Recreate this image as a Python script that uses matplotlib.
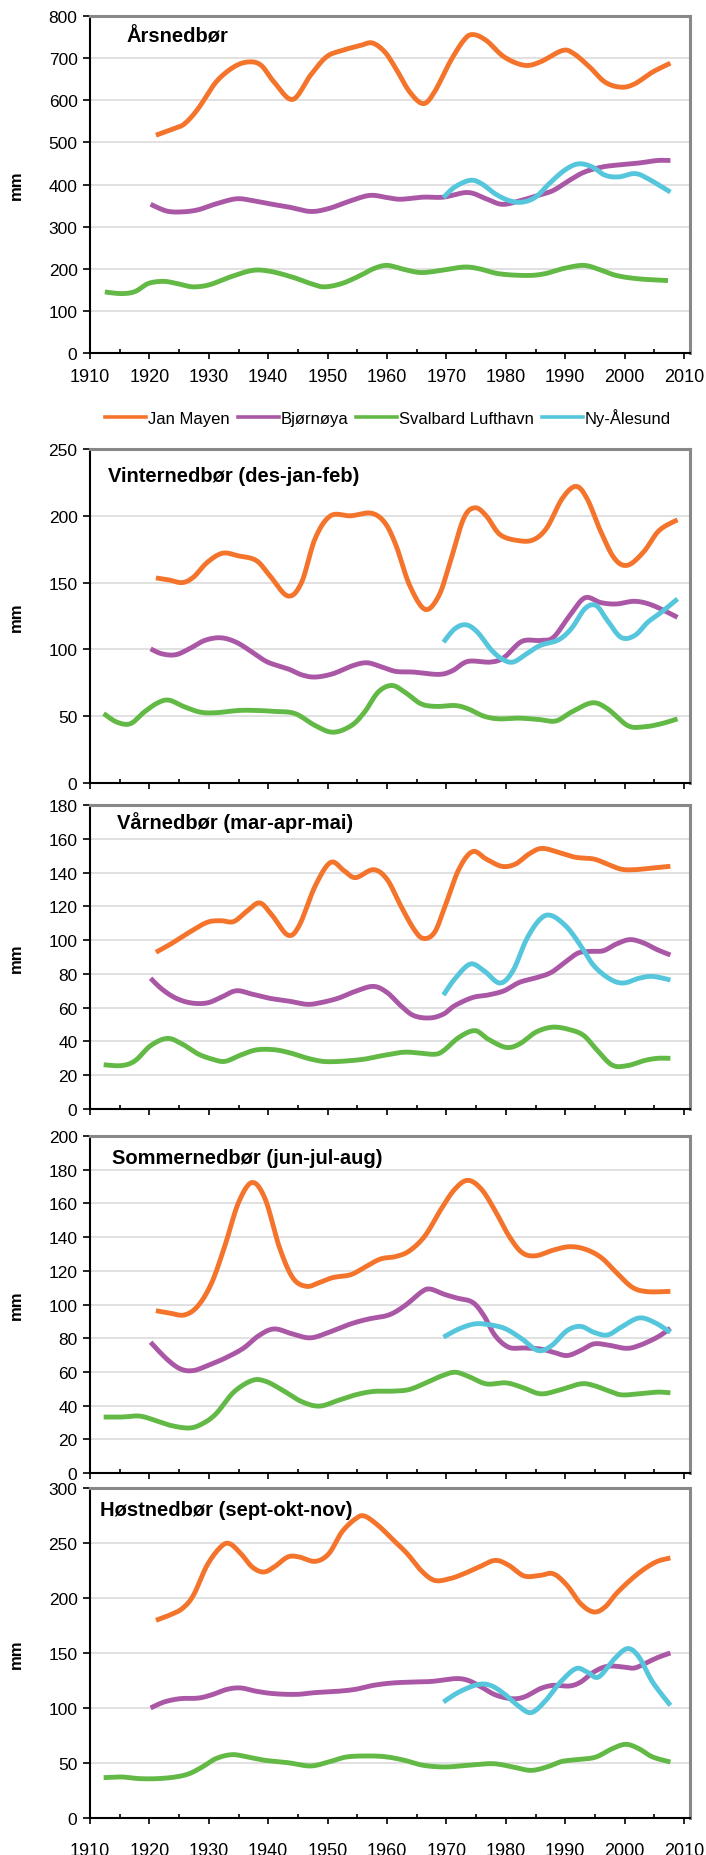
import numpy as np
import matplotlib
matplotlib.use("Agg")
import matplotlib.pyplot as plt
from matplotlib.lines import Line2D
from matplotlib.ticker import MultipleLocator

plt.rcParams['font.family'] = ['Liberation Sans', 'DejaVu Sans']

# Data: (year, mm)
stations = ['Jan Mayen', 'Bjørnøya', 'Svalbard Lufthavn', 'Ny-Ålesund']
colors = ['#F4742C', '#AA57A6', '#63B946', '#55C6DC']

# Årsnedbør
aar_jan = [(1921.1, 517), (1924, 532), (1925.9, 544), (1928.2, 580), (1931.2, 643), (1934.2, 679),
           (1936.7, 691), (1938.8, 683), (1941, 643), (1944.1, 602), (1947.1, 659), (1949.8, 703),
           (1952.4, 718), (1955.5, 730), (1957.5, 736), (1959.6, 715), (1961.5, 675), (1963.8, 620),
           (1966.1, 592), (1968, 620), (1970.6, 691), (1972.9, 742), (1974.4, 756), (1976.7, 742),
           (1979.7, 703), (1983.1, 683), (1985.8, 691), (1989.5, 718), (1991.4, 711), (1994.1, 679),
           (1996.7, 643), (1999.4, 631), (2001.7, 639), (2004.7, 667), (2007.7, 688)]
aar_bjo = [(1920.2, 353), (1922.9, 337), (1925.5, 335), (1928.2, 340), (1931.2, 354), (1934.6, 366),
           (1937.3, 362), (1940.3, 354), (1943.3, 347), (1947.1, 336), (1950.2, 343), (1953.2, 358),
           (1957, 374), (1960, 369), (1962.3, 365), (1966.1, 370), (1969.5, 370), (1973.6, 381),
           (1976.7, 366), (1979.3, 353), (1982, 360), (1985.4, 374), (1988, 386), (1990.7, 410),
           (1993.3, 430), (1996.4, 442), (1999.4, 447), (2002.4, 451), (2005.5, 457), (2007.7, 457)]
aar_sva = [(1912.5, 145), (1915.3, 141), (1917.6, 146), (1919.8, 165), (1922.5, 170), (1925.2, 163),
           (1927.4, 157), (1930.1, 162), (1933.5, 180), (1937.3, 196), (1940.3, 194), (1944.1, 180),
           (1947.1, 165), (1949.4, 157), (1952.4, 165), (1955.5, 184), (1957.7, 200), (1960, 208),
           (1962.7, 199), (1965.7, 191), (1969.1, 196), (1972.9, 204), (1975.5, 200), (1978.9, 188),
           (1983.5, 184), (1986.5, 188), (1989.5, 200), (1993, 208), (1995.6, 199), (1998.6, 184),
           (2002.4, 176), (2007.3, 172)]
aar_ny = [(1969.5, 369), (1971.4, 394), (1974, 410), (1975.9, 402), (1978.2, 378), (1980.5, 362),
          (1982.7, 358), (1985, 370), (1987.3, 402), (1989.9, 434), (1992.2, 449), (1994.5, 442),
          (1996.7, 422), (1999, 418), (2001.7, 426), (2003.9, 414), (2007.7, 382)]

# Vinternedbør (des-jan-feb)
vin_jan = [(1921.1, 153.5), (1923.3, 152), (1925.5, 150), (1927.4, 154), (1929.7, 165), (1932.3, 172),
           (1935, 170), (1938, 166.5), (1940.3, 155), (1943.3, 140), (1945.6, 150), (1947.9, 183),
           (1950.5, 200), (1953.9, 200), (1957.3, 202), (1959.6, 195), (1961.5, 178), (1963.8, 148),
           (1966.4, 130), (1968.7, 140), (1970.6, 165), (1972.9, 198), (1974.8, 206), (1976.7, 200),
           (1979, 186), (1982, 181.5), (1984.6, 182), (1986.9, 191), (1989.5, 213), (1991.8, 222),
           (1993.7, 212.6), (1996, 188), (1998.3, 168), (2000.5, 163), (2003.2, 173), (2005.8, 189),
           (2008.9, 197)]
vin_bjo = [(1920.2, 100.4), (1922.1, 96.7), (1924.4, 96), (1926.7, 100.4), (1929.3, 106.7), (1932, 108.7),
           (1934.6, 105.4), (1937.3, 98), (1939.9, 90.5), (1943.3, 85.5), (1945.6, 81), (1947.9, 79.3),
           (1950.9, 81.8), (1954, 87.5), (1956.6, 90), (1959.2, 86.7), (1961.5, 83.5), (1964.5, 83),
           (1968.7, 81.3), (1971, 84), (1973.6, 91), (1977.4, 90.5), (1979.7, 94), (1982.7, 106),
           (1985.8, 106.7), (1988, 109), (1990.7, 125), (1993.3, 138.6), (1996, 135), (1998.6, 134),
           (2001.7, 136), (2004.7, 133), (2008.9, 124)]
vin_sva = [(1912.3, 52), (1914.5, 45.6), (1916.8, 44.4), (1919.1, 53), (1921.4, 60), (1923.3, 62),
           (1925.9, 57), (1928.6, 53), (1931.2, 52.6), (1935, 54.3), (1938, 54.3), (1941, 53.6),
           (1944.5, 52), (1947.9, 43), (1950.9, 38), (1954, 43), (1956.2, 53), (1958.5, 68),
           (1960.8, 73), (1963, 68), (1965.7, 59.3), (1968.3, 57.3), (1971.4, 58), (1973.6, 55.6),
           (1976.3, 50), (1978.9, 48), (1982, 48.6), (1985.4, 47.6), (1988.4, 46.4), (1991, 53),
           (1994.5, 60), (1997.1, 55.6), (2000.5, 43), (2003.2, 42), (2006.2, 44.4), (2008.9, 48)]
vin_ny = [(1969.5, 105.4), (1971.4, 115.4), (1973.3, 118.4), (1975.2, 113), (1977.4, 100.4), (1979.3, 93),
          (1981.2, 90.5), (1983.5, 96.7), (1985.8, 103), (1988.8, 107), (1991, 115.4), (1993.3, 130.4),
          (1995.2, 132.8), (1997.1, 121.6), (1999.4, 109), (2001.7, 110.4), (2003.9, 120.4),
          (2006.2, 127.9), (2008.9, 137.8)]

# Vårnedbør (mar-apr-mai)
vaar_jan = [(1921.1, 92.8), (1923.6, 97.7), (1926.7, 104.6), (1929.7, 110.5), (1932, 111.5), (1934.2, 111),
            (1936.5, 117.4), (1938.6, 122), (1940.7, 114.5), (1943.3, 103), (1945.2, 108.5), (1947.9, 132),
            (1950.5, 146), (1952.8, 141), (1954.7, 137), (1957.7, 141.7), (1960, 136), (1962.3, 120.4),
            (1964.5, 106.6), (1966.1, 101), (1968, 104.6), (1969.8, 120.4), (1972.1, 142), (1974.4, 152.4),
            (1976.7, 148), (1979.3, 143.7), (1981.6, 145), (1983.9, 151), (1986.1, 154.3), (1989.2, 151.6),
            (1991.8, 149), (1994.8, 148), (1997.1, 145), (1999.4, 142), (2001.7, 141.7), (2004.7, 142.7),
            (2007.7, 143.7)]
vaar_bjo = [(1920.2, 77.4), (1922.1, 71), (1924.4, 65.7), (1927, 62.8), (1929.7, 62.8), (1932, 66),
            (1934.6, 70), (1937.3, 68), (1940.3, 65.5), (1943.3, 64), (1946.4, 62), (1948.6, 62.8),
            (1951.7, 65.5), (1954.7, 69.7), (1957.7, 72.6), (1960, 69), (1962.3, 61.2), (1964.5, 55.3),
            (1967.2, 53.9), (1969.5, 56.2), (1971.4, 61.2), (1974.4, 66), (1977, 67.5), (1979.7, 70),
            (1982.3, 75), (1985.4, 78), (1987.7, 81), (1990.3, 87.8), (1992.2, 92.4), (1994.1, 93.3),
            (1996.4, 93.7), (1998.6, 97.7), (2000.9, 100.3), (2003.2, 98.3), (2005.5, 94.3), (2007.7, 91.2)]
vaar_sva = [(1912.3, 26.2), (1915.3, 25.7), (1917.6, 28.6), (1920.2, 37.5), (1923, 41.8), (1925.5, 38.5),
            (1928.2, 32.6), (1930.5, 29.6), (1932.7, 28.2), (1935.4, 32), (1938, 35), (1941, 35.1),
            (1943.7, 33.2), (1947.1, 29.6), (1950.2, 28), (1955.5, 29.2), (1959.2, 31.6), (1962.7, 33.6),
            (1965.3, 33.2), (1968, 32.4), (1969.5, 34.5), (1972.1, 42.4), (1974.8, 46.4), (1977, 41.4),
            (1980, 36.5), (1982.3, 38.5), (1985, 45.4), (1987.7, 48.4), (1990.3, 47.4), (1993, 43.8),
            (1995.2, 35.5), (1997.9, 26), (2000.5, 25.7), (2003.2, 28.6), (2005.5, 30), (2007.7, 30)]
vaar_ny = [(1969.5, 67.5), (1971.4, 77), (1974, 85.8), (1976.3, 81.9), (1979, 74.6), (1981.2, 81.9),
           (1983.5, 100.6), (1985.8, 112.5), (1987.7, 114.5), (1990.3, 107.6), (1992.6, 96.7),
           (1994.8, 84.9), (1997.5, 77), (1999.8, 74.6), (2002.4, 77.4), (2004.7, 78.5), (2007.7, 76.4)]

# Sommernedbør (jun-jul-aug)
som_jan = [(1921.1, 96.3), (1923.3, 95), (1925.9, 93.8), (1928.2, 99.3), (1930.5, 113), (1932.7, 134.8),
           (1935, 160.5), (1937.3, 172.4), (1939.5, 162.5), (1941.8, 134.8), (1944.1, 116), (1946.4, 110.8),
           (1948.6, 113), (1950.9, 116), (1953.9, 117.7), (1956.2, 122), (1958.9, 127), (1961.5, 128.5),
           (1963.8, 131.9), (1966.4, 140.8), (1969.1, 156.6), (1971.4, 168.4), (1973.6, 173.7),
           (1975.9, 168.4), (1978.2, 155.6), (1980.5, 140.8), (1982.7, 130.9), (1985, 128.9), (1988, 132.3),
           (1990.7, 134.3), (1993.3, 132.9), (1996, 128), (1998.6, 119), (2001.3, 110.2), (2003.9, 107.6),
           (2007.7, 107.8)]
som_bjo = [(1920.2, 77.6), (1922.9, 67.7), (1925.2, 61.8), (1927.4, 60.8), (1930.1, 64.2), (1932.7, 68.1),
           (1935.8, 74), (1938.4, 81.5), (1941, 85.5), (1944.1, 82.5), (1947.1, 80.2), (1950.2, 83.5),
           (1953.9, 88.5), (1956.9, 91.4), (1960.3, 93.8), (1963, 99.3), (1965.7, 107.2), (1967.2, 109.2),
           (1969.5, 106.2), (1971.8, 103.8), (1974.4, 101.3), (1976.3, 93.4), (1978.2, 81.5), (1980.5, 74.6),
           (1983.1, 74.2), (1985.8, 73.6), (1988, 71.7), (1990.3, 69.7), (1992.6, 72.7), (1994.8, 76.6),
           (1997.1, 76), (2000.2, 74), (2002.4, 75.6), (2005.5, 80.6), (2007.7, 85.9)]
som_sva = [(1912.3, 33.2), (1915.3, 33.2), (1918.3, 33.8), (1921, 31.2), (1923.6, 28.2), (1926.7, 26.7),
           (1928.9, 29.2), (1931.2, 35.1), (1934.2, 48), (1937.3, 54.9), (1939.5, 54.5), (1942.2, 49.6),
           (1945.6, 42.4), (1948.6, 39.7), (1951.7, 43), (1954.7, 46.4), (1957.7, 48.4), (1961.1, 48.6),
           (1963.8, 49.6), (1966.8, 53.9), (1969.1, 57.5), (1971.4, 59.8), (1973.6, 57.5), (1976.7, 52.9),
           (1980, 53.5), (1982.7, 50.9), (1985.8, 47), (1988.8, 49), (1992.6, 52.9), (1994.8, 51.9),
           (1997.1, 49), (1999.4, 46.4), (2002.4, 47), (2005.5, 48), (2007.7, 47.6)]
som_ny = [(1969.5, 80.6), (1972.1, 85.5), (1974.8, 88.5), (1977.4, 87.9), (1980, 85.5), (1982.7, 79.6),
          (1985.4, 72.7), (1987.7, 75.6), (1990.3, 84.5), (1992.6, 87), (1994.8, 83.5), (1997.1, 81.9),
          (1999.4, 86.5), (2002.4, 92), (2005, 89.4), (2007.7, 83.5)]

# Høstnedbør (sept-okt-nov)
hos_jan = [(1921.1, 179.7), (1923.3, 184.2), (1925.5, 190.3), (1927.4, 202.4), (1929.7, 229.7), (1932, 246.4),
           (1933.5, 249.4), (1935.4, 240.3), (1937.3, 228.2), (1939.2, 223.6), (1941, 228.2), (1943.3, 237.3),
           (1945.2, 237.3), (1947.9, 233.3), (1950.2, 240.3), (1952.4, 260), (1954.7, 272), (1956.2, 274.5),
           (1958.5, 266), (1960.8, 254), (1963.4, 240.3), (1965.7, 225.2), (1968, 216), (1970.6, 217.6),
           (1972.9, 222), (1975.5, 228.2), (1978.2, 234.2), (1980.5, 229.7), (1983.1, 220), (1985.8, 220.6),
           (1988, 222), (1990.3, 211.5), (1992.6, 194.8), (1994.8, 187.3), (1996.7, 191.8), (1998.6, 204),
           (2000.9, 216), (2003.2, 226), (2005.5, 233.3), (2007.7, 236.4)]
hos_bjo = [(1920.2, 100), (1922.5, 105.5), (1925.2, 108.5), (1928.2, 109), (1930.5, 112), (1933.1, 117),
           (1935.4, 118.2), (1938, 115.2), (1941, 113), (1944.8, 112.4), (1947.9, 114), (1951.7, 115.2),
           (1954.7, 117), (1957.7, 120.6), (1960.8, 122.7), (1964.2, 123.6), (1967.6, 124.2), (1971.4, 126.7),
           (1973.6, 125.2), (1975.9, 119), (1978.2, 112), (1980.9, 108.5), (1983.1, 110), (1985.8, 117.6),
           (1988, 120.6), (1990.7, 120), (1992.6, 123.6), (1994.8, 132.7), (1997.1, 137.9), (1999.8, 137.3),
           (2001.7, 136.4), (2003.9, 141.8), (2005.8, 146.4), (2007.7, 150)]
hos_sva = [(1912.3, 36.7), (1915.3, 37.3), (1918.3, 35.8), (1921.4, 35.8), (1924.4, 37.3), (1926.7, 40.3),
           (1928.9, 46.4), (1931.2, 54), (1933.9, 57.6), (1936.5, 55.5), (1939.5, 52.4), (1943.3, 50.3),
           (1947.1, 47.3), (1950.2, 51), (1953.2, 55.5), (1957, 56.4), (1960, 55.5), (1963, 52.4),
           (1966.1, 47.9), (1969.8, 46.4), (1973.6, 47.9), (1977.8, 49.4), (1981.2, 46.4), (1984.2, 43.3),
           (1986.9, 46.4), (1989.5, 51.5), (1992.6, 53.3), (1995.2, 55.5), (1997.9, 63), (2000.2, 67),
           (2002.4, 63), (2004.7, 55.5), (2007.7, 50.9)]
hos_ny = [(1969.5, 105.5), (1972.1, 114.5), (1975.2, 121.2), (1977.4, 120.6), (1979.7, 113), (1982, 102.4),
          (1984.2, 95.8), (1986.5, 105.5), (1989.2, 123.6), (1991.8, 135.8), (1993.7, 132.7), (1995.6, 128.2),
          (1998.3, 144.8), (2000.5, 154), (2002.4, 146.4), (2004.7, 123.6), (2007.7, 102.4)]

titles = ['Årsnedbør', 'Vinternedbør (des-jan-feb)', 'Vårnedbør (mar-apr-mai)',
          'Sommernedbør (jun-jul-aug)', 'Høstnedbør (sept-okt-nov)']
panels = [[aar_jan, aar_bjo, aar_sva, aar_ny],
          [vin_jan, vin_bjo, vin_sva, vin_ny],
          [vaar_jan, vaar_bjo, vaar_sva, vaar_ny],
          [som_jan, som_bjo, som_sva, som_ny],
          [hos_jan, hos_bjo, hos_sva, hos_ny]]
ymax = [800, 250, 180, 200, 300]
ystep = [100, 50, 20, 20, 50]


def smooth(pts, n=14):
    # Catmull-Rom curve through the points, like Excel's smoothed lines
    pts = np.asarray(pts, dtype=float)
    p = np.vstack([pts[0], pts, pts[-1]])
    t = np.linspace(0, 1, n, endpoint=False)[:, None]
    out = []
    for i in range(1, len(p) - 2):
        p0, p1, p2, p3 = p[i - 1], p[i], p[i + 1], p[i + 2]
        out.append(0.5 * (2 * p1 + (p2 - p0) * t + (2 * p0 - 5 * p1 + 4 * p2 - p3) * t ** 2
                          + (3 * p1 - p0 - 3 * p2 + p3) * t ** 3))
    out.append(pts[-1:])
    return np.vstack(out)


W, H = 706, 1856
fig = plt.figure(figsize=(W / 100, H / 100), dpi=100)

# axes boxes in pixels: (top, bottom)
boxes = [(17, 354), (450, 784), (806, 1110), (1137, 1474), (1489, 1819)]
title_pos = [(127, 37), (108, 477), (117, 823), (112, 1159), (100, 1511)]
left, right = 90, 690

for k, (top, bot) in enumerate(boxes):
    ax = fig.add_axes([left / W, 1 - bot / H, (right - left) / W, (bot - top) / H])
    for series, c in zip(panels[k], colors):
        xy = smooth(series)
        ax.plot(xy[:, 0], xy[:, 1], color=c, lw=3.5, solid_capstyle='butt')
    ax.set_xlim(1910, 2011)
    ax.set_ylim(0, ymax[k])
    ax.yaxis.set_major_locator(MultipleLocator(ystep[k]))
    ax.xaxis.set_major_locator(MultipleLocator(10))
    ax.xaxis.set_minor_locator(MultipleLocator(5))
    ax.grid(axis='y', color='#D9D9D9', lw=1.1)
    ax.set_axisbelow(True)
    for s in ['top', 'right']:
        ax.spines[s].set_color('#888888')
        ax.spines[s].set_linewidth(2.2)
    for s in ['left', 'bottom']:
        ax.spines[s].set_color('black')
        ax.spines[s].set_linewidth(1.5)
    ax.tick_params(axis='y', direction='out', length=5, width=1.2, pad=4, labelsize=12.5)
    ax.tick_params(axis='x', which='major', direction='out', length=4, width=1.2, labelsize=13)
    ax.tick_params(axis='x', which='minor', direction='in', length=3, width=1.2)
    if k == 0:
        ax.tick_params(axis='x', which='major', pad=7)
    elif k == 4:
        ax.tick_params(axis='x', which='major', pad=13)
    else:
        ax.tick_params(axis='x', which='major', labelbottom=False)
    tx, ty = title_pos[k]
    fig.text(tx / W, 1 - ty / H, titles[k], fontsize=14.5, fontweight='bold', ha='left', va='center')
    fig.text(16 / W, 1 - (top + bot) / 2 / H, 'mm', fontsize=12, fontweight='bold',
             rotation=90, ha='center', va='center')

handles = [Line2D([], [], color=c, lw=2.6) for c in colors]
fig.legend(handles, stations, loc='center', bbox_to_anchor=(388 / W, 1 - 418 / H), ncol=4,
           frameon=False, fontsize=12, handlelength=2.45, handletextpad=0.1, columnspacing=0.5,
           borderaxespad=0, borderpad=0)

fig.savefig('out.png', dpi=100)
